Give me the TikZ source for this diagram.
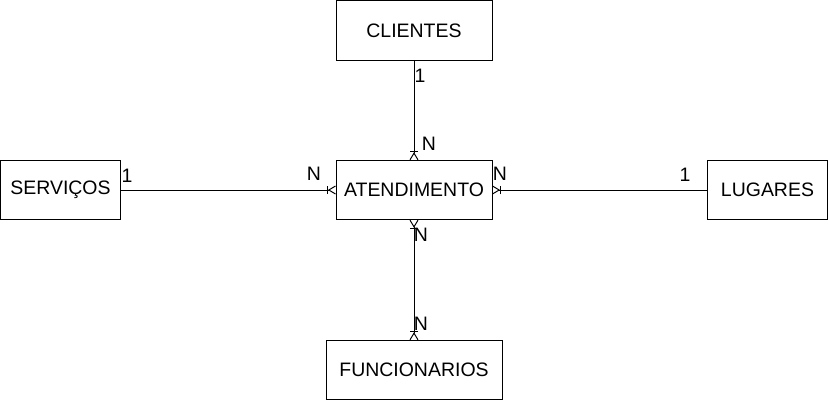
\documentclass[tikz,border=0pt]{standalone}
\usepackage{fontspec}
\setmainfont{Liberation Sans}
\usepackage{tikz}
\usetikzlibrary{arrows.meta}

\begin{document}
\begin{tikzpicture}[x=0.75pt, y=-0.75pt, font=\fontsize{14.6}{17}\selectfont]
\tikzset{Ent/.style={shape=rectangle, draw, line width=0.75pt, inner sep=0pt, outer sep=0pt, minimum height=44.5pt}}
\tikzset{Card/.style={inner sep=0pt}}
\tikzset{crow/.tip={Bar[width=6pt, sep=0pt, line width=0.75pt] Straight Barb[reversed, length=5pt, width=6pt, line width=0.75pt]}}
\tikzset{Rel/.style={draw, line width=0.75pt}}
\useasboundingbox (0, 0) rectangle (828, 401);

% nodes
\node[Ent, minimum width=117pt] (clientes) at (414, 30.5) {CLIENTES};
\node[Ent, minimum width=117pt] (atend) at (414, 190) {ATENDIMENTO};
\node[Ent, minimum width=90pt] (servicos) at (60.5, 190) {SERVIÇOS};
\node[Ent, minimum width=90pt] (lugares) at (767.5, 190) {LUGARES};
\node[Ent, minimum width=132pt] (funcionarios) at (414, 370) {FUNCIONARIOS};

% cardinalities
\node[Card] (c1) at (420, 76) {1};
\node[Card] (cN) at (429, 144) {N};
\node[Card] (s1) at (127, 175.5) {1};
\node[Card] (sN) at (314, 174) {N};
\node[Card] (lN) at (500, 174) {N};
\node[Card] (l1) at (685, 175) {1};
\node[Card] (fN1) at (421, 235) {N};
\node[Card] (fN2) at (421, 324) {N};

% arrows
\draw[Rel, -crow] (clientes) -- (atend);
\draw[Rel, -crow] (servicos) -- (atend);
\draw[Rel, -crow] (lugares) -- (atend);
\draw[Rel, crow-crow] (atend) -- (funcionarios);
\end{tikzpicture}
\end{document}
